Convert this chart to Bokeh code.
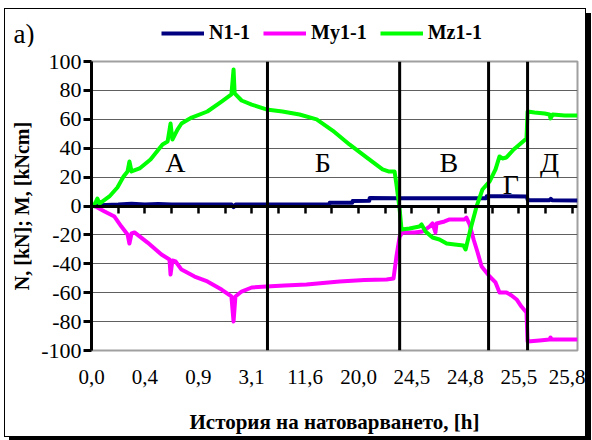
from bokeh.plotting import figure
from bokeh.layouts import column
from bokeh.models import (Range1d, LinearAxis, FixedTicker, Legend, LegendItem,
                          Span, ColumnDataSource)
from bokeh.core.properties import value
from bokeh.embed import file_html
from bokeh.resources import INLINE

FONT = "Liberation Serif"

# category axis: positions are category-tick units
x_tick_pos = [0, 2, 4, 6, 8, 10, 12, 14, 16, 18]
x_tick_labels = ["0,0", "0,4", "0,9", "3,1", "11,6", "20,0", "24,5", "24,8", "25,5", "25,8"]
x_minor_pos = list(range(0, 19))
y_ticks = [-100, -80, -60, -40, -20, 0, 20, 40, 60, 80, 100]
y_tick_labels = ["-100", "-80", "-60", "-40", "-20", "0", "20", "40", "60", "80", "100"]

# N1-1
n_x = [0.0, 0.3, 1.0, 1.5, 2.0, 2.5, 3.0, 4.0, 5.25, 5.32, 5.4, 6.6, 8.9, 8.92, 9.76,
       9.78, 10.4, 10.42, 11.5, 14.78, 14.8, 16.3, 16.34, 17.15, 17.2, 17.25, 18.2]
n_y = [0.0, 0.6, 1.0, 1.5, 1.0, 1.4, 1.0, 1.0, 1.0, -0.8, 1.0, 1.0, 1.0, 2.2, 2.2,
       3.4, 3.6, 5.6, 5.4, 5.4, 6.8, 6.6, 4.0, 4.0, 5.0, 4.0, 3.8]

# My1-1
my_x = [0.0, 0.22, 0.49, 0.86, 1.12, 1.35, 1.42, 1.5, 1.61, 2.1, 2.62, 2.92, 2.96, 3.03,
        3.15, 3.37, 3.86, 4.34, 4.87, 5.24, 5.32, 5.39, 5.62, 6.0, 6.55, 7.23, 8.05,
        9.29, 10.22, 11.05, 11.31, 11.42, 11.54, 11.65, 12.1, 12.4, 12.66, 12.77, 12.88,
        12.92, 13.22, 13.41, 13.97, 14.04, 14.16, 14.31, 14.46, 14.61, 14.91, 15.13,
        15.28, 15.54, 15.73, 15.92, 16.1, 16.29, 16.33, 16.78, 17.15, 17.19, 17.23, 18.2]
my_y = [1.0, -1.0, -3.8, -7.3, -14.2, -19.7, -26.0, -19.0, -18.3, -25.3, -33.6, -37.0,
        -47.4, -37.7, -38.4, -44.0, -48.8, -52.2, -57.8, -62.6, -79.9, -62.6, -59.2,
        -56.4, -55.7, -55.0, -54.3, -52.2, -51.2, -50.9, -50.2, -34.9, -21.1, -18.3,
        -18.3, -17.6, -14.2, -12.1, -18.3, -12.1, -10.7, -9.3, -9.3, -8.0, -12.8, -23.2,
        -32.2, -41.9, -48.8, -52.9, -59.9, -59.9, -61.9, -64.7, -69.6, -73.7, -93.8,
        -93.1, -92.4, -91.0, -92.4, -92.4]

# Mz1-1
mz_x = [0.04, 0.15, 0.22, 0.3, 0.67, 0.97, 1.2, 1.35, 1.42, 1.5, 1.8, 2.21, 2.66, 2.85,
        2.96, 3.03, 3.22, 3.37, 3.75, 4.34, 4.87, 5.24, 5.32, 5.36, 5.62, 6.0, 6.55,
        7.15, 7.79, 8.43, 9.03, 9.66, 10.3, 10.9, 11.12, 11.35, 11.42, 11.54, 11.61,
        11.91, 12.28, 12.36, 12.51, 12.77, 13.03, 13.3, 13.6, 13.93, 14.01, 14.19,
        14.42, 14.64, 14.91, 15.13, 15.28, 15.39, 15.54, 15.81, 16.03, 16.29, 16.33,
        16.59, 16.97, 17.15, 17.19, 17.27, 17.72, 18.2]
mz_y = [-1.0, 2.4, 5.2, 1.7, 6.6, 12.8, 20.4, 23.9, 30.8, 23.9, 26.0, 32.2, 42.6, 44.6,
        57.1, 46.0, 52.9, 57.1, 61.2, 65.4, 72.3, 77.2, 94.5, 77.9, 73.0, 70.2, 66.8,
        65.4, 63.3, 59.9, 52.2, 42.6, 33.6, 25.3, 23.9, 23.9, 14.9, -2.4, -16.3,
        -15.6, -14.2, -12.8, -17.6, -21.8, -23.2, -26.0, -26.6, -27.3, -30.1, -16.3,
        -0.3, 11.4, 17.0, 25.3, 34.3, 32.9, 33.6, 39.1, 42.6, 46.7, 65.4,
        64.7, 64.0, 63.3, 60.6, 63.3, 62.6, 62.6]

series_names = ["N1-1", "My1-1", "Mz1-1"]
series_colors = ["#000080", "#FF00FF", "#00FF00"]
series_x = [n_x, my_x, mz_x]
series_y = [n_y, my_y, mz_y]

phase_bounds = [6.59, 11.54, 14.87, 16.33]
phase_names = ["А", "Б", "В", "Г", "Д"]
phase_x = [3.14, 8.66, 13.38, 15.7, 17.15]
phase_y = [29.8, 29.8, 29.8, 15.2, 29.8]

panel_tag = "а)"

W = 580

# ---- header strip: panel tag and legend (shares x scale with the chart) ----
top = figure(width=W, height=38, output_backend="svg", toolbar_location=None,
             x_range=Range1d(0, 18.2), y_range=Range1d(200, 242),
             min_border_left=86, min_border_right=8, min_border_top=10, min_border_bottom=0)
top.xaxis.visible = False
top.grid.visible = False
top.outline_line_color = None
top.background_fill_color = "white"
top.border_fill_color = "white"
ta = top.yaxis[0]
ta.ticker = FixedTicker(ticks=[])
ta.axis_line_color = None
ta.major_tick_line_color = None
ta.minor_tick_line_color = None
ta.major_tick_out = 0
ta.axis_label = panel_tag
ta.axis_label_orientation = "horizontal"
ta.axis_label_text_font = FONT
ta.axis_label_text_font_style = "normal"
ta.axis_label_text_font_size = "27px"
ta.axis_label_text_color = "black"
ta.axis_label_standoff = 57

# legend proxies: same series, outside the header's visible y window
proxies = [top.line(xs, ys, line_color=c, line_width=4)
           for xs, ys, c in zip(series_x, series_y, series_colors)]
legend = Legend(items=[LegendItem(label=n, renderers=[r]) for n, r in zip(series_names, proxies)],
                orientation="horizontal", location=(70, 3),
                label_text_font=FONT, label_text_font_style="bold",
                label_text_font_size="20px", label_text_color="black",
                glyph_width=43, glyph_height=20, label_standoff=5, spacing=13,
                padding=0, margin=0, border_line_color=None,
                background_fill_alpha=0)
top.add_layout(legend)

# ---- main chart ----
p = figure(width=W, height=389, output_backend="svg", toolbar_location=None,
           x_range=Range1d(0, 18.2), y_range=Range1d(-100, 100),
           min_border_left=86, min_border_right=8, min_border_top=14, min_border_bottom=86)
p.background_fill_color = "white"
p.border_fill_color = "white"
p.outline_line_color = "#a0a0a0"
p.outline_line_width = 2

p.xgrid.visible = False
p.ygrid.ticker = FixedTicker(ticks=y_ticks)
p.ygrid.grid_line_color = "#606060"
p.ygrid.grid_line_width = 1

xa = p.xaxis[0]
xa.ticker = FixedTicker(ticks=x_tick_pos)
xa.major_label_overrides = {t: l for t, l in zip(x_tick_pos, x_tick_labels)}
xa.axis_line_color = None
xa.major_tick_line_color = None
xa.minor_tick_line_color = None
xa.major_tick_out = 0
xa.major_tick_in = 0
xa.major_label_standoff = 19
xa.major_label_text_font = FONT
xa.major_label_text_font_size = "21px"
xa.major_label_text_color = "black"
xa.axis_label = "История на натоварването, [h]"
xa.axis_label_text_font = FONT
xa.axis_label_text_font_style = "bold"
xa.axis_label_text_font_size = "21px"
xa.axis_label_text_color = "black"
xa.axis_label_standoff = 23

x0 = LinearAxis(fixed_location=0, ticker=FixedTicker(ticks=x_minor_pos),
                major_label_overrides={t: "" for t in x_minor_pos},
                axis_line_width=3, axis_line_color="black",
                major_tick_out=7, major_tick_in=0,
                major_tick_line_width=2.5, major_tick_line_color="black",
                minor_tick_line_color=None)
p.add_layout(x0, "below")

ya = p.yaxis[0]
ya.ticker = FixedTicker(ticks=y_ticks)
ya.major_label_overrides = {t: l for t, l in zip(y_ticks, y_tick_labels)}
ya.axis_line_width = 3
ya.axis_line_color = "black"
ya.major_tick_out = 8
ya.major_tick_in = 0
ya.major_tick_line_width = 3
ya.major_tick_line_color = "black"
ya.minor_tick_line_color = None
ya.major_label_standoff = 2
ya.major_label_text_font = FONT
ya.major_label_text_font_size = "22px"
ya.major_label_text_color = "black"
ya.axis_label = "N, [kN]; M, [kNcm]"
ya.axis_label_text_font = FONT
ya.axis_label_text_font_style = "bold"
ya.axis_label_text_font_size = "20px"
ya.axis_label_text_color = "black"
ya.axis_label_standoff = 5

for xs, ys, c in zip(series_x, series_y, series_colors):
    p.line(xs, ys, line_color=c, line_width=4, line_join="round")

for b in phase_bounds:
    p.add_layout(Span(location=b, dimension="height", line_color="black", line_width=3))

src = ColumnDataSource(dict(x=phase_x, y=phase_y, t=phase_names))
p.text(x="x", y="y", text="t", source=src, text_font=value(FONT),
       text_font_size="28px", text_align="center", text_baseline="middle",
       text_color="black")

layout = column(top, p, spacing=0,
                styles={"border": "1px solid black",
                        "box-shadow": "5px 5px 0px 0px #000000",
                        "margin-left": "4px", "margin-top": "8px",
                        "background-color": "white"})

open("out.html", "w").write(file_html(layout, INLINE))
